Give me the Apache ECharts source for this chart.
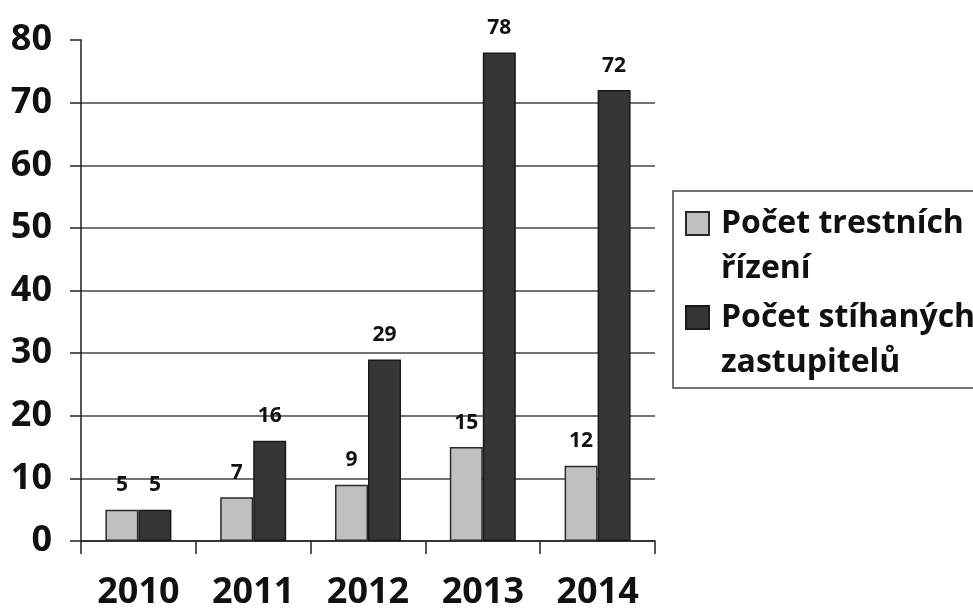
<!DOCTYPE html>
<html>
<head>
<meta charset="utf-8">
<script src="https://cdn.jsdelivr.net/npm/echarts@6/dist/echarts.min.js"></script>
<style>
html,body{margin:0;padding:0;background:#fff;}
#c{width:973px;height:611px;}
</style>
</head>
<body>
<div id="c"></div>
<script>
const years = ['2010', '2011', '2012', '2013', '2014'];
const seriesNames = ['Počet trestních\nřízení', 'Počet stíhaných\nzastupitelů'];
const trestniRizeni = [5, 7, 9, 15, 12];
const stihaniZastupitele = [5, 16, 29, 78, 72];
const yTicks = [0, 10, 20, 30, 40, 50, 60, 70, 80];

const FONT = 'Open Sans';
const chart = echarts.init(document.getElementById('c'), null, {renderer: 'canvas'});

const labelStyle = {
  show: true,
  position: 'top',
  distance: 14,
  fontFamily: FONT,
  fontWeight: 'bold',
  fontSize: 21,
  color: '#111'
};

chart.setOption({
  animation: false,
  backgroundColor: '#ffffff',
  grid: {left: 81, right: 318, top: 40, bottom: 70, containLabel: false},
  legend: {
    orient: 'vertical',
    left: 673,
    top: 191,
    padding: [10, 40, 3, 12],
    borderColor: '#444',
    borderWidth: 1.5,
    borderRadius: 0,
    itemGap: 4,
    itemWidth: 30,
    itemHeight: 68,
    icon: 'path://M0,0H23V23H0Z M30,68',
    textStyle: {fontFamily: FONT, fontWeight: 'bold', fontSize: 32, color: '#111', lineHeight: 45},
    data: seriesNames
  },
  xAxis: {
    type: 'category',
    data: years,
    axisLine: {show: true, lineStyle: {color: '#222', width: 1.5}},
    axisTick: {show: true, alignWithLabel: false, length: 13, lineStyle: {color: '#222', width: 1.5}},
    axisLabel: {fontFamily: FONT, fontWeight: 'bold', fontSize: 36, color: '#111', margin: 34}
  },
  yAxis: {
    type: 'value',
    min: yTicks[0],
    max: yTicks[yTicks.length - 1],
    interval: 10,
    axisLine: {show: true, lineStyle: {color: '#222', width: 1.5}},
    axisTick: {show: true, length: 11, lineStyle: {color: '#222', width: 1.5}},
    axisLabel: {fontFamily: FONT, fontWeight: 'bold', fontSize: 36, color: '#111', margin: 29},
    splitLine: {show: true, showMaxLine: false, lineStyle: {color: '#444', width: 1.5}}
  },
  series: [
    {
      name: seriesNames[0],
      type: 'bar',
      data: trestniRizeni,
      barWidth: 33,
      barGap: '0%',
      itemStyle: {color: '#c0c0c0', borderColor: '#2a2a2a', borderWidth: 1.5},
      label: labelStyle
    },
    {
      name: seriesNames[1],
      type: 'bar',
      data: stihaniZastupitele,
      barWidth: 33,
      barGap: '0%',
      itemStyle: {color: '#363636', borderColor: '#1a1a1a', borderWidth: 1.5},
      label: labelStyle
    }
  ]
});
</script>
</body>
</html>
